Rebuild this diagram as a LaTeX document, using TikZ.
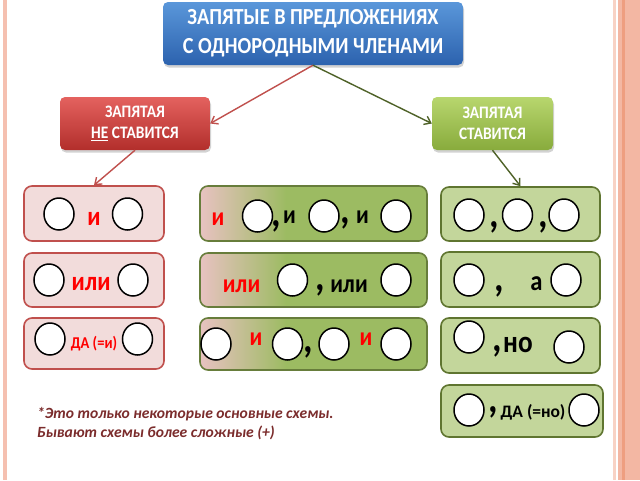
\documentclass[tikz,border=0pt]{standalone}
\usepackage{fontspec}
\setmainfont{Carlito}[FakeStretch=0.88]
\newfontfamily\notefont{Carlito}
\usetikzlibrary{arrows.meta,shapes.geometric,shadows}
\definecolor{pageline}{HTML}{F5C0B0}
\definecolor{pagelight}{HTML}{F8D2C4}
\definecolor{band}{HTML}{F3B7A3}
\definecolor{banddark}{HTML}{EE9E80}
\definecolor{titletop}{HTML}{5A97DA}
\definecolor{titlebot}{HTML}{2C62AE}
\definecolor{redtop}{HTML}{E4625F}
\definecolor{redbot}{HTML}{B22E2B}
\definecolor{grntop}{HTML}{B8D66E}
\definecolor{grnbot}{HTML}{88AB3C}
\definecolor{redline}{HTML}{C0504D}
\definecolor{grnline}{HTML}{4F6228}
\definecolor{lfill}{HTML}{F2DCDB}
\definecolor{lborder}{HTML}{C0504D}
\definecolor{midpink}{HTML}{E8C2C1}
\definecolor{midgreen}{HTML}{9CBB62}
\definecolor{mborder}{HTML}{677D3B}
\definecolor{rfill}{HTML}{C3D69B}
\definecolor{rborder}{HTML}{5F7530}
\definecolor{notecol}{HTML}{7B2C2C}
\definecolor{txtred}{HTML}{FF0000}
\pgfdeclarehorizontalshading{midshade}{100bp}{color(0bp)=(midpink); color(25bp)=(midpink); color(44bp)=(midgreen); color(100bp)=(midgreen)}
\tikzset{
  hdrbox/.style={rounded corners=5pt, text=white, align=center, inner sep=0pt,
    drop shadow={opacity=0.35, shadow xshift=1pt, shadow yshift=-2.5pt}},
  lbox/.style={draw=lborder, fill=lfill, line width=1.6pt, rounded corners=8pt, inner sep=0pt},
  mbox/.style={draw=mborder, shade, shading=midshade, line width=1.6pt, rounded corners=8pt, inner sep=0pt},
  rbox/.style={draw=rborder, fill=rfill, line width=1.6pt, rounded corners=8pt, inner sep=0pt},
  circ/.style={ellipse, draw=black, line width=1.5pt, fill=white, minimum width=30pt, minimum height=32pt, inner sep=0pt},
  rtxt/.style={text=txtred, font=\bfseries\fontsize{26}{26}\selectfont, inner sep=0pt, anchor=base},
  btxt/.style={text=black, font=\bfseries\fontsize{26}{26}\selectfont, inner sep=0pt, anchor=base},
  cmm/.style={text=black, font=\bfseries\fontsize{42}{42}\selectfont, inner sep=0pt, anchor=base},
  redarrow/.style={draw=redline, line width=1.4pt, -{Straight Barb[length=6pt,width=9pt,line width=1.4pt]}},
  grnarrow/.style={draw=grnline, line width=1.4pt, -{Straight Barb[length=6pt,width=9pt,line width=1.4pt]}},
  notetxt/.style={text=notecol, font=\notefont\bfseries\itshape\fontsize{15.6}{19}\selectfont, inner sep=0pt, anchor=base west}
}
\begin{document}
\begin{tikzpicture}[x=1pt,y=-1pt]
\useasboundingbox (0,0) rectangle (640,480);
\fill[white] (0,0) rectangle (640,480);
% page frame
\fill[pageline] (3,0) rectangle (7,480);
\fill[pagelight] (613,0) rectangle (616,480);
\fill[band] (618,0) rectangle (640,480);
\fill[banddark] (622,0) rectangle (625,480);

% header boxes
\node[hdrbox, top color=titletop, bottom color=titlebot, minimum width=300pt, minimum height=63pt,
  font=\bfseries\fontsize{23}{29}\selectfont] (title) at (313,33.5)
  {ЗАПЯТЫЕ В ПРЕДЛОЖЕНИЯХ\\С ОДНОРОДНЫМИ ЧЛЕНАМИ};
\node[hdrbox, top color=redtop, bottom color=redbot, minimum width=150pt, minimum height=53pt,
  font=\bfseries\fontsize{17.5}{21}\selectfont] (no) at (135,123.5)
  {ЗАПЯТАЯ\\\underline{НЕ} СТАВИТСЯ};
\node[hdrbox, top color=grntop, bottom color=grnbot, minimum width=121pt, minimum height=53pt,
  font=\bfseries\fontsize{17.5}{21}\selectfont] (yes) at (492.5,123.5)
  {ЗАПЯТАЯ\\СТАВИТСЯ};

% left column
\node[lbox, minimum width=140pt, minimum height=55pt] (l1) at (94,213.5) {};
\node[lbox, minimum width=140pt, minimum height=54pt] (l2) at (94,280) {};
\node[lbox, minimum width=140pt, minimum height=51pt] (l3) at (94,343.5) {};
% middle column
\node[mbox, minimum width=227pt, minimum height=55pt] (m1) at (313.5,213.5) {};
\node[mbox, minimum width=227pt, minimum height=54pt] (m2) at (313.5,280) {};
\node[mbox, minimum width=227pt, minimum height=52pt] (m3) at (313.5,344) {};
% right column
\node[rbox, minimum width=159pt, minimum height=54pt] (r1) at (520.5,214) {};
\node[rbox, minimum width=159pt, minimum height=55pt] (r2) at (520.5,279.5) {};
\node[rbox, minimum width=159pt, minimum height=55pt] (r3) at (520.5,345.5) {};
\node[rbox, minimum width=162pt, minimum height=52pt] (r4) at (522,411) {};

% arrows
\draw[redarrow] (title.south) -- (no.east);
\draw[grnarrow] (title.south) -- (yes.west);
\draw[redarrow] (no.south) -- (l1.north);
\draw[grnarrow] (yes.south) -- (r1.north);

% left row 1
\node[circ] (l1a) at (59,214) {};
\node[circ] (l1b) at (127.5,214) {};
\node[rtxt, font=\bfseries\fontsize{27}{27}\selectfont] (l1t) at (94,225) {и};
% left row 2
\node[circ] (l2a) at (49,280) {};
\node[circ] (l2b) at (133,280) {};
\node[rtxt, font=\bfseries\fontsize{27}{27}\selectfont] (l2t) at (91,290) {или};
% left row 3
\node[circ] (l3a) at (50,339) {};
\node[circ] (l3b) at (137.5,339) {};
\node[rtxt, font=\bfseries\fontsize{16.5}{16.5}\selectfont] (l3t) at (94,348) {ДА (=и)};

% middle row 1
\node[rtxt] (m1t) at (218,225) {и};
\node[circ] (m1a) at (257.5,216) {};
\node[cmm] (m1c1) at (276.5,226) {,};
\node[btxt] (m1t2) at (289.5,223) {и};
\node[circ] (m1b) at (324,216) {};
\node[cmm] (m1c2) at (345,223) {,};
\node[btxt] (m1t3) at (362.5,223) {и};
\node[circ] (m1d) at (396,216) {};
% middle row 2
\node[rtxt] (m2t) at (241.5,292) {или};
\node[circ] (m2a) at (292.5,280) {};
\node[cmm] (m2c) at (320,290) {,};
\node[btxt] (m2t2) at (349,292) {или};
\node[circ] (m2b) at (396,280) {};
% middle row 3
\node[circ] (m3a) at (216,344) {};
\node[rtxt] (m3t) at (256,345) {и};
\node[circ] (m3b) at (287.5,344) {};
\node[cmm] (m3c) at (308.5,352) {,};
\node[circ] (m3d) at (334,344) {};
\node[rtxt] (m3t2) at (366,345) {и};
\node[circ] (m3e) at (396,344) {};

% right row 1
\node[circ] (r1a) at (469,215) {};
\node[cmm] (r1c1) at (494.5,227) {,};
\node[circ] (r1b) at (517.5,215) {};
\node[cmm] (r1c2) at (543.5,227) {,};
\node[circ] (r1d) at (564,215) {};
% right row 2
\node[circ] (r2a) at (469,280) {};
\node[cmm] (r2c) at (499.5,291) {,};
\node[btxt, font=\bfseries\fontsize{28}{28}\selectfont] (r2t) at (536.5,290) {а};
\node[circ] (r2b) at (566,280) {};
% right row 3
\node[circ] (r3a) at (469,337) {};
\node[cmm] (r3c) at (497.5,351) {,};
\node[btxt, font=\bfseries\fontsize{31}{31}\selectfont] (r3t) at (518,352) {но};
\node[circ] (r3b) at (569,347) {};
% right row 4
\node[circ] (r4a) at (469,410) {};
\node[cmm] (r4c) at (493.5,412) {,};
\node[btxt, font=\notefont\bfseries\fontsize{17.5}{17.5}\selectfont] (r4t) at (533,417) {ДА (=но)};
\node[circ] (r4b) at (584,410) {};

% footnote
\node[notetxt] (n1) at (37,418) {*Это только некоторые основные схемы.};
\node[notetxt] (n2) at (37,437) {Бывают схемы более сложные (+)};
\end{tikzpicture}
\end{document}
